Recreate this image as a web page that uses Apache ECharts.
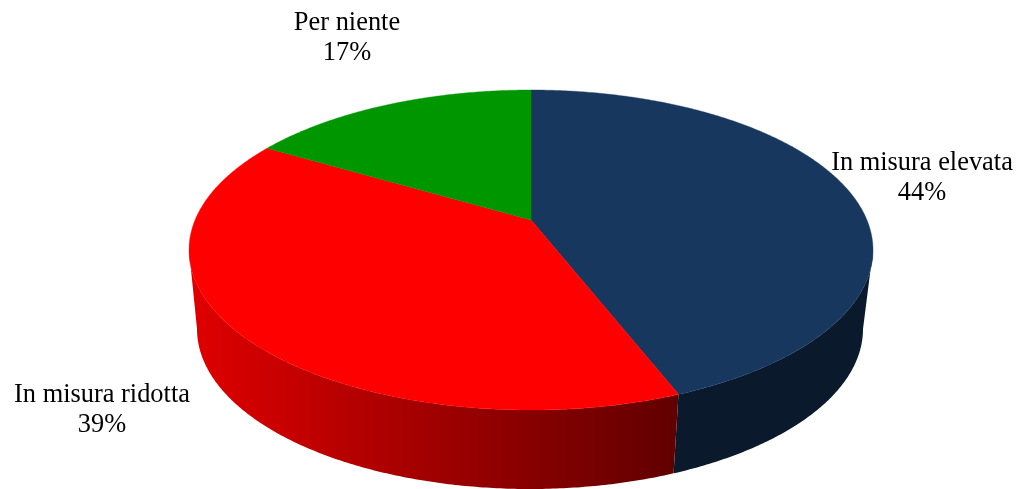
<!DOCTYPE html>
<html>
<head>
<meta charset="utf-8">
<style>html,body{margin:0;padding:0;background:#fff}#c{width:1018px;height:489px}</style>
<script src="https://cdn.jsdelivr.net/npm/echarts@6/dist/echarts.min.js"></script>
</head>
<body>
<div id="c"></div>
<script>
// Data (labels show rounded percentages)
const categories = ['In misura elevata', 'In misura ridotta', 'Per niente'];
const shares = [44.1, 39.4, 16.5];

// Styling and layout
const topColors = ['#17375e', '#ff0000', '#009600'];
const wallColors = [
  '#0a192c',
  { type: 'linear', x: 189, y: 0, x2: 680, y2: 0, global: true,
    colorStops: [{ offset: 0, color: '#e00000' }, { offset: 1, color: '#600000' }] },
  '#004000'
];
const labelCentres = [[922, 178], [102, 410], [347, 38]];
const topDisc = { cx: 531, cy: 250, rx: 342, ry: 160 };
const baseDisc = { cx: 530, cy: 329, rx: 333, ry: 160 };
const tilt = 0.1875; // perspective shift of the pie centre inside the ellipse

const total = shares.reduce((a, b) => a + b, 0);

// Perspective map from a true pie angle (clockwise from top) to the unit disc.
function project(deg) {
  const t = deg * Math.PI / 180;
  const x = Math.sin(t), y = -Math.cos(t);
  const d = 1 - tilt * y;
  return [x * Math.sqrt(1 - tilt * tilt) / d, (y - tilt) / d];
}
function onDisc(disc, u) { return [disc.cx + u[0] * disc.rx, disc.cy + u[1] * disc.ry]; }
function arc(disc, a0, a1) {
  const pts = [];
  const n = Math.max(2, Math.ceil(Math.abs(a1 - a0) * 2));
  for (let i = 0; i <= n; i++) pts.push(onDisc(disc, project(a0 + (a1 - a0) * i / n)));
  return pts;
}
// The part of the rim facing the viewer
const frontStart = Math.acos(-tilt) * 180 / Math.PI;
const frontEnd = 360 - frontStart;

function renderSlice(params, api) {
  const i = params.dataIndex;
  let before = 0;
  for (let k = 0; k < i; k++) before += shares[k];
  const a0 = before / total * 360;
  const a1 = a0 + api.value(0) / total * 360;
  const apex = [topDisc.cx, topDisc.cy - tilt * topDisc.ry];
  const children = [];

  const w0 = Math.max(a0, frontStart), w1 = Math.min(a1, frontEnd);
  if (w1 > w0) {
    const wall = arc(topDisc, w0, w1).concat(arc(baseDisc, w0, w1).reverse());
    children.push({ type: 'polygon', shape: { points: wall },
      style: { fill: wallColors[i], stroke: null } });
  }
  children.push({ type: 'polygon', shape: { points: [apex].concat(arc(topDisc, a0, a1)) },
    style: { fill: topColors[i], stroke: topColors[i], lineWidth: 0.4 } });
  children.push({ type: 'text', x: labelCentres[i][0], y: labelCentres[i][1], z2: 10,
    style: {
      text: categories[i] + '\n' + Math.round(api.value(0)) + '%',
      fontFamily: '"Liberation Serif", "Times New Roman", serif',
      fontSize: 26.4, lineHeight: 30, fill: '#000',
      align: 'center', verticalAlign: 'middle'
    } });
  return { type: 'group', children };
}

const chart = echarts.init(document.getElementById('c'), null, { renderer: 'canvas' });
chart.setOption({
  animation: false,
  backgroundColor: '#ffffff',
  series: [{
    type: 'custom',
    coordinateSystem: 'none',
    silent: true,
    renderItem: renderSlice,
    data: shares.map((v, i) => ({ name: categories[i], value: [v] }))
  }]
});
</script>
</body>
</html>
